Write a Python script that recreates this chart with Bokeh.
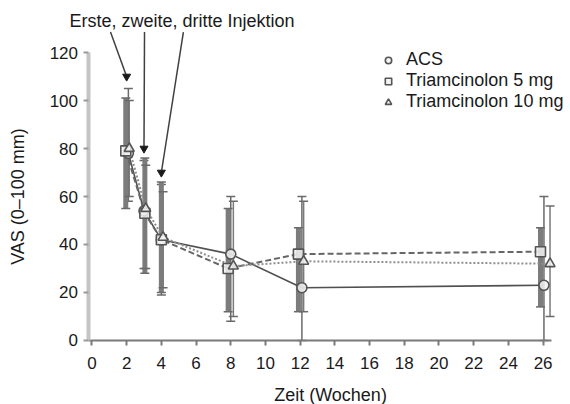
import math
from bokeh.plotting import figure
from bokeh.models import (Range1d, Whisker, TeeHead, Legend, LegendItem, Label,
                          ColumnDataSource, FixedTicker)
from bokeh.embed import file_html
from bokeh.resources import INLINE

# ---- data ----
weeks = [2, 3, 4, 8, 12, 26]
series_names = ["ACS", "Triamcinolon 5 mg", "Triamcinolon 10 mg"]
acs_mean = [78, 54, 42, 36, 22, 23]
acs_lo = [58, 30, 19, 8, 0, 0]
acs_hi = [105, 75, 65, 60, 60, 60]
t5_mean = [79, 53, 42, 30, 36, 37]
t5_lo = [55, 28, 20, 12, 12, 14]
t5_hi = [101, 76, 66, 55, 47, 47]
t10_mean = [80, 55, 43, 31, 33, 32]
t10_lo = [60, 30, 22, 10, 12, 10]
t10_hi = [100, 73, 62, 58, 58, 56]

inj_weeks = [2, 3, 4]
inj_values = [110, 80, 70]
inj_text = "Erste, zweite, dritte Injektion"
inj_text_week = 5.19
inj_text_value = 133.3
inj_line_start_weeks = [1.07, 3.03, 5.27]
inj_line_start_value = 128.5

x_ticks = list(range(0, 27, 2))
y_ticks = [0, 20, 40, 60, 80, 100, 120]
y_title = "VAS (0\u2013100 mm)"
x_title = "Zeit (Wochen)"

FONT = "Liberation Sans"
TXT = "#1a1a1a"

p = figure(width=570, height=404, output_backend="svg", toolbar_location=None,
           x_range=Range1d(-5.27, 27.58), y_range=Range1d(-26.67, 141.67),
           min_border_left=0, min_border_right=0, min_border_top=0,
           min_border_bottom=0)
p.outline_line_color = None
p.grid.visible = False
p.background_fill_color = "white"

# axes
p.xaxis.ticker = FixedTicker(ticks=x_ticks)
p.yaxis.ticker = FixedTicker(ticks=y_ticks)
p.yaxis.bounds = (0, 120)
p.xaxis.bounds = (-0.17, 26.5)
p.yaxis.fixed_location = -0.17
p.xaxis.fixed_location = 0
for ax in (p.xaxis[0], p.yaxis[0]):
    ax.major_label_text_font = FONT
    ax.major_label_text_font_size = "17px"
    ax.major_label_text_color = TXT
    ax.minor_tick_line_color = None
    ax.major_tick_in = 0
    ax.major_tick_out = 5
p.xaxis.axis_line_color = "#7a7a7a"
p.xaxis.axis_line_width = 2
p.xaxis.major_tick_line_color = "#7a7a7a"
p.xaxis.major_tick_line_width = 2
p.xaxis.major_label_standoff = 12
p.yaxis.axis_line_color = "#c4c4c4"
p.yaxis.axis_line_width = 4
p.yaxis.major_tick_line_color = "#9a9a9a"
p.yaxis.major_tick_line_width = 2
p.yaxis.major_label_standoff = 6

# axis titles
p.add_layout(Label(x=-4.29, y=60, text=y_title, angle=math.pi / 2,
                   text_font=FONT, text_font_size="18px", text_color=TXT,
                   text_align="center", text_baseline="middle"))
p.add_layout(Label(x=13.75, y=-22.9, text=x_title,
                   text_font=FONT, text_font_size="18px", text_color=TXT,
                   text_align="center", text_baseline="middle"))

dodge = {"ACS": [0.1, 0.0, 0.0, 0.0, 0.1, 0.05],
         "Triamcinolon 5 mg": [-0.05, 0.05, 0.0, -0.15, -0.1, -0.15],
         "Triamcinolon 10 mg": [0.15, 0.1, 0.1, 0.15, 0.2, 0.4]}
styles = {
    "ACS": dict(marker="circle", line_dash="solid", lc="#505050", lw=1.6,
                eb_w=1.5, eb_c="#6a6a6a"),
    "Triamcinolon 5 mg": dict(marker="square", line_dash="6 3", lc="#666666", lw=2,
                              eb_w=5, eb_c="#7c7c7c"),
    "Triamcinolon 10 mg": dict(marker="triangle", line_dash="2 2", lc="#8f8f8f", lw=2,
                               eb_w=1.5, eb_c="#7a7a7a"),
}
data = {"ACS": (acs_mean, acs_lo, acs_hi),
        "Triamcinolon 5 mg": (t5_mean, t5_lo, t5_hi),
        "Triamcinolon 10 mg": (t10_mean, t10_lo, t10_hi)}

for name in series_names:
    m, lo, hi = data[name]
    st = styles[name]
    xs = [w + d for w, d in zip(weeks, dodge[name])]
    src = ColumnDataSource(dict(x=xs, y=m, lo=lo, hi=hi))
    p.add_layout(Whisker(base="x", lower="lo", upper="hi", source=src,
                         line_color=st["eb_c"], line_width=st["eb_w"],
                         upper_head=TeeHead(size=9, line_color="#6a6a6a", line_width=1.5),
                         lower_head=TeeHead(size=9, line_color="#6a6a6a", line_width=1.5)))

for name in series_names:
    m, lo, hi = data[name]
    st = styles[name]
    xs = [w + d for w, d in zip(weeks, dodge[name])]
    p.line(xs, m, line_color=st["lc"], line_width=st["lw"], line_dash=st["line_dash"])

legend_items = []
for name in series_names:
    m, lo, hi = data[name]
    st = styles[name]
    xs = [w + d for w, d in zip(weeks, dodge[name])]
    r = p.scatter(xs, m, marker=st["marker"], size=10,
                  fill_color="#f2f2f2", fill_alpha=0.85, line_color="#555555",
                  line_width=1.6)
    legend_items.append(LegendItem(label=name, renderers=[r]))

legend = Legend(items=legend_items, location=(380, 292), orientation="vertical",
                background_fill_alpha=0, border_line_color=None, padding=0,
                margin=0, spacing=0, label_height=20, glyph_height=20,
                glyph_width=16, label_standoff=10,
                label_text_font=FONT, label_text_font_size="18px",
                label_text_color=TXT)
p.add_layout(legend)

# injection arrows and text
p.segment(x0=inj_line_start_weeks, y0=[inj_line_start_value] * 3,
          x1=inj_weeks, y1=inj_values, line_color="#404040", line_width=1.5)
p.scatter(x=inj_weeks, y=inj_values, marker="inverted_triangle", size=8,
          fill_color="#1a1a1a", line_color="#1a1a1a")
p.add_layout(Label(x=inj_text_week, y=inj_text_value, text=inj_text,
                   text_font=FONT, text_font_size="18px", text_color=TXT,
                   text_align="center", text_baseline="middle"))

open("out.html", "w").write(file_html(p, INLINE))
